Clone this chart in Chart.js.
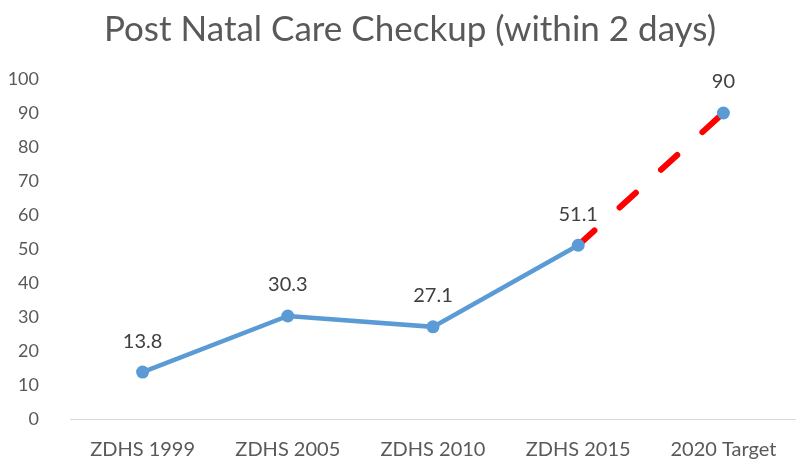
<!DOCTYPE html>
<html>
<head>
<meta charset="utf-8">
<script src="https://cdn.jsdelivr.net/npm/chart.js@4.4.0/dist/chart.umd.min.js"></script>
<style>
    html, body { margin: 0; padding: 0; background: #fff; }
    #wrap { width: 796px; height: 459px; }
</style>
</head>
<body>
<div id="wrap"><canvas id="chart" width="796" height="459"></canvas></div>
<script>
// Dane wykresu
const surveyLabels = ['ZDHS 1999', 'ZDHS 2005', 'ZDHS 2010', 'ZDHS 2015', '2020 Target'];
const checkupValues = [13.8, 30.3, 27.1, 51.1, 90];
const yTicks = [0, 10, 20, 30, 40, 50, 60, 70, 80, 90, 100];
const chartTitle = 'Post Natal Care Checkup (within 2 days)';

const FONT = 'Lato, "Open Sans", sans-serif';
const blue = '#5B9BD5';

// Tytuł rysowany ręcznie (wyśrodkowany jak w Excelu, nie na całej szerokości)
const titlePlugin = {
    id: 'customTitle',
    afterDraw(chart) {
        const ctx = chart.ctx;
        ctx.save();
        ctx.font = '35px ' + FONT;
        ctx.fillStyle = '#595959';
        ctx.textAlign = 'center';
        ctx.textBaseline = 'middle';
        ctx.fillText(chartTitle, 410, 30);
        ctx.restore();
    }
};

// Etykiety wartości nad punktami
const valueLabels = {
    id: 'valueLabels',
    afterDatasetsDraw(chart) {
        const ctx = chart.ctx;
        const meta = chart.getDatasetMeta(0);
        ctx.save();
        ctx.font = '20px ' + FONT;
        ctx.fillStyle = '#404040';
        ctx.textAlign = 'center';
        ctx.textBaseline = 'middle';
        meta.data.forEach((pt, i) => {
            ctx.fillText(String(checkupValues[i]), pt.x, pt.y - 31);
        });
        ctx.restore();
    }
};

const ctx = document.getElementById('chart').getContext('2d');
new Chart(ctx, {
    type: 'line',
    data: {
        labels: surveyLabels,
        datasets: [{
            data: checkupValues,
            borderColor: blue,
            backgroundColor: blue,
            borderWidth: 4.5,
            borderCapStyle: 'round',
            pointRadius: 6.5,
            pointBorderWidth: 0,
            pointBackgroundColor: blue,
            tension: 0,
            segment: {
                // Ostatni odcinek (do celu 2020) - czerwona przerywana linia
                borderColor: c => c.p1DataIndex === 4 ? '#FF0000' : undefined,
                borderDash: c => c.p1DataIndex === 4 ? [22, 34] : undefined,
                borderWidth: c => c.p1DataIndex === 4 ? 6 : undefined
            }
        }]
    },
    options: {
        responsive: false,
        animation: false,
        layout: { autoPadding: false, padding: { top: 79, right: 0, bottom: 0, left: 0 } },
        plugins: {
            legend: { display: false },
            tooltip: { enabled: false },
            title: { display: false }
        },
        scales: {
            x: {
                offset: true,
                grid: { display: false },
                border: { display: true, color: '#D9D9D9', width: 1 },
                ticks: { color: '#595959', font: { family: FONT, size: 20 }, padding: 11 },
                afterFit: s => { s.height = 40; s.paddingLeft = 0; s.paddingRight = 0; }
            },
            y: {
                min: 0,
                max: 100,
                afterBuildTicks: s => { s.ticks = yTicks.map(v => ({ value: v })); },
                grid: { display: false },
                border: { display: false },
                ticks: { color: '#595959', font: { family: FONT, size: 18 }, padding: 23 },
                afterFit: s => { s.width = 70; s.paddingTop = 0; s.paddingBottom = 0; }
            }
        }
    },
    plugins: [valueLabels, titlePlugin]
});
</script>
</body>
</html>
